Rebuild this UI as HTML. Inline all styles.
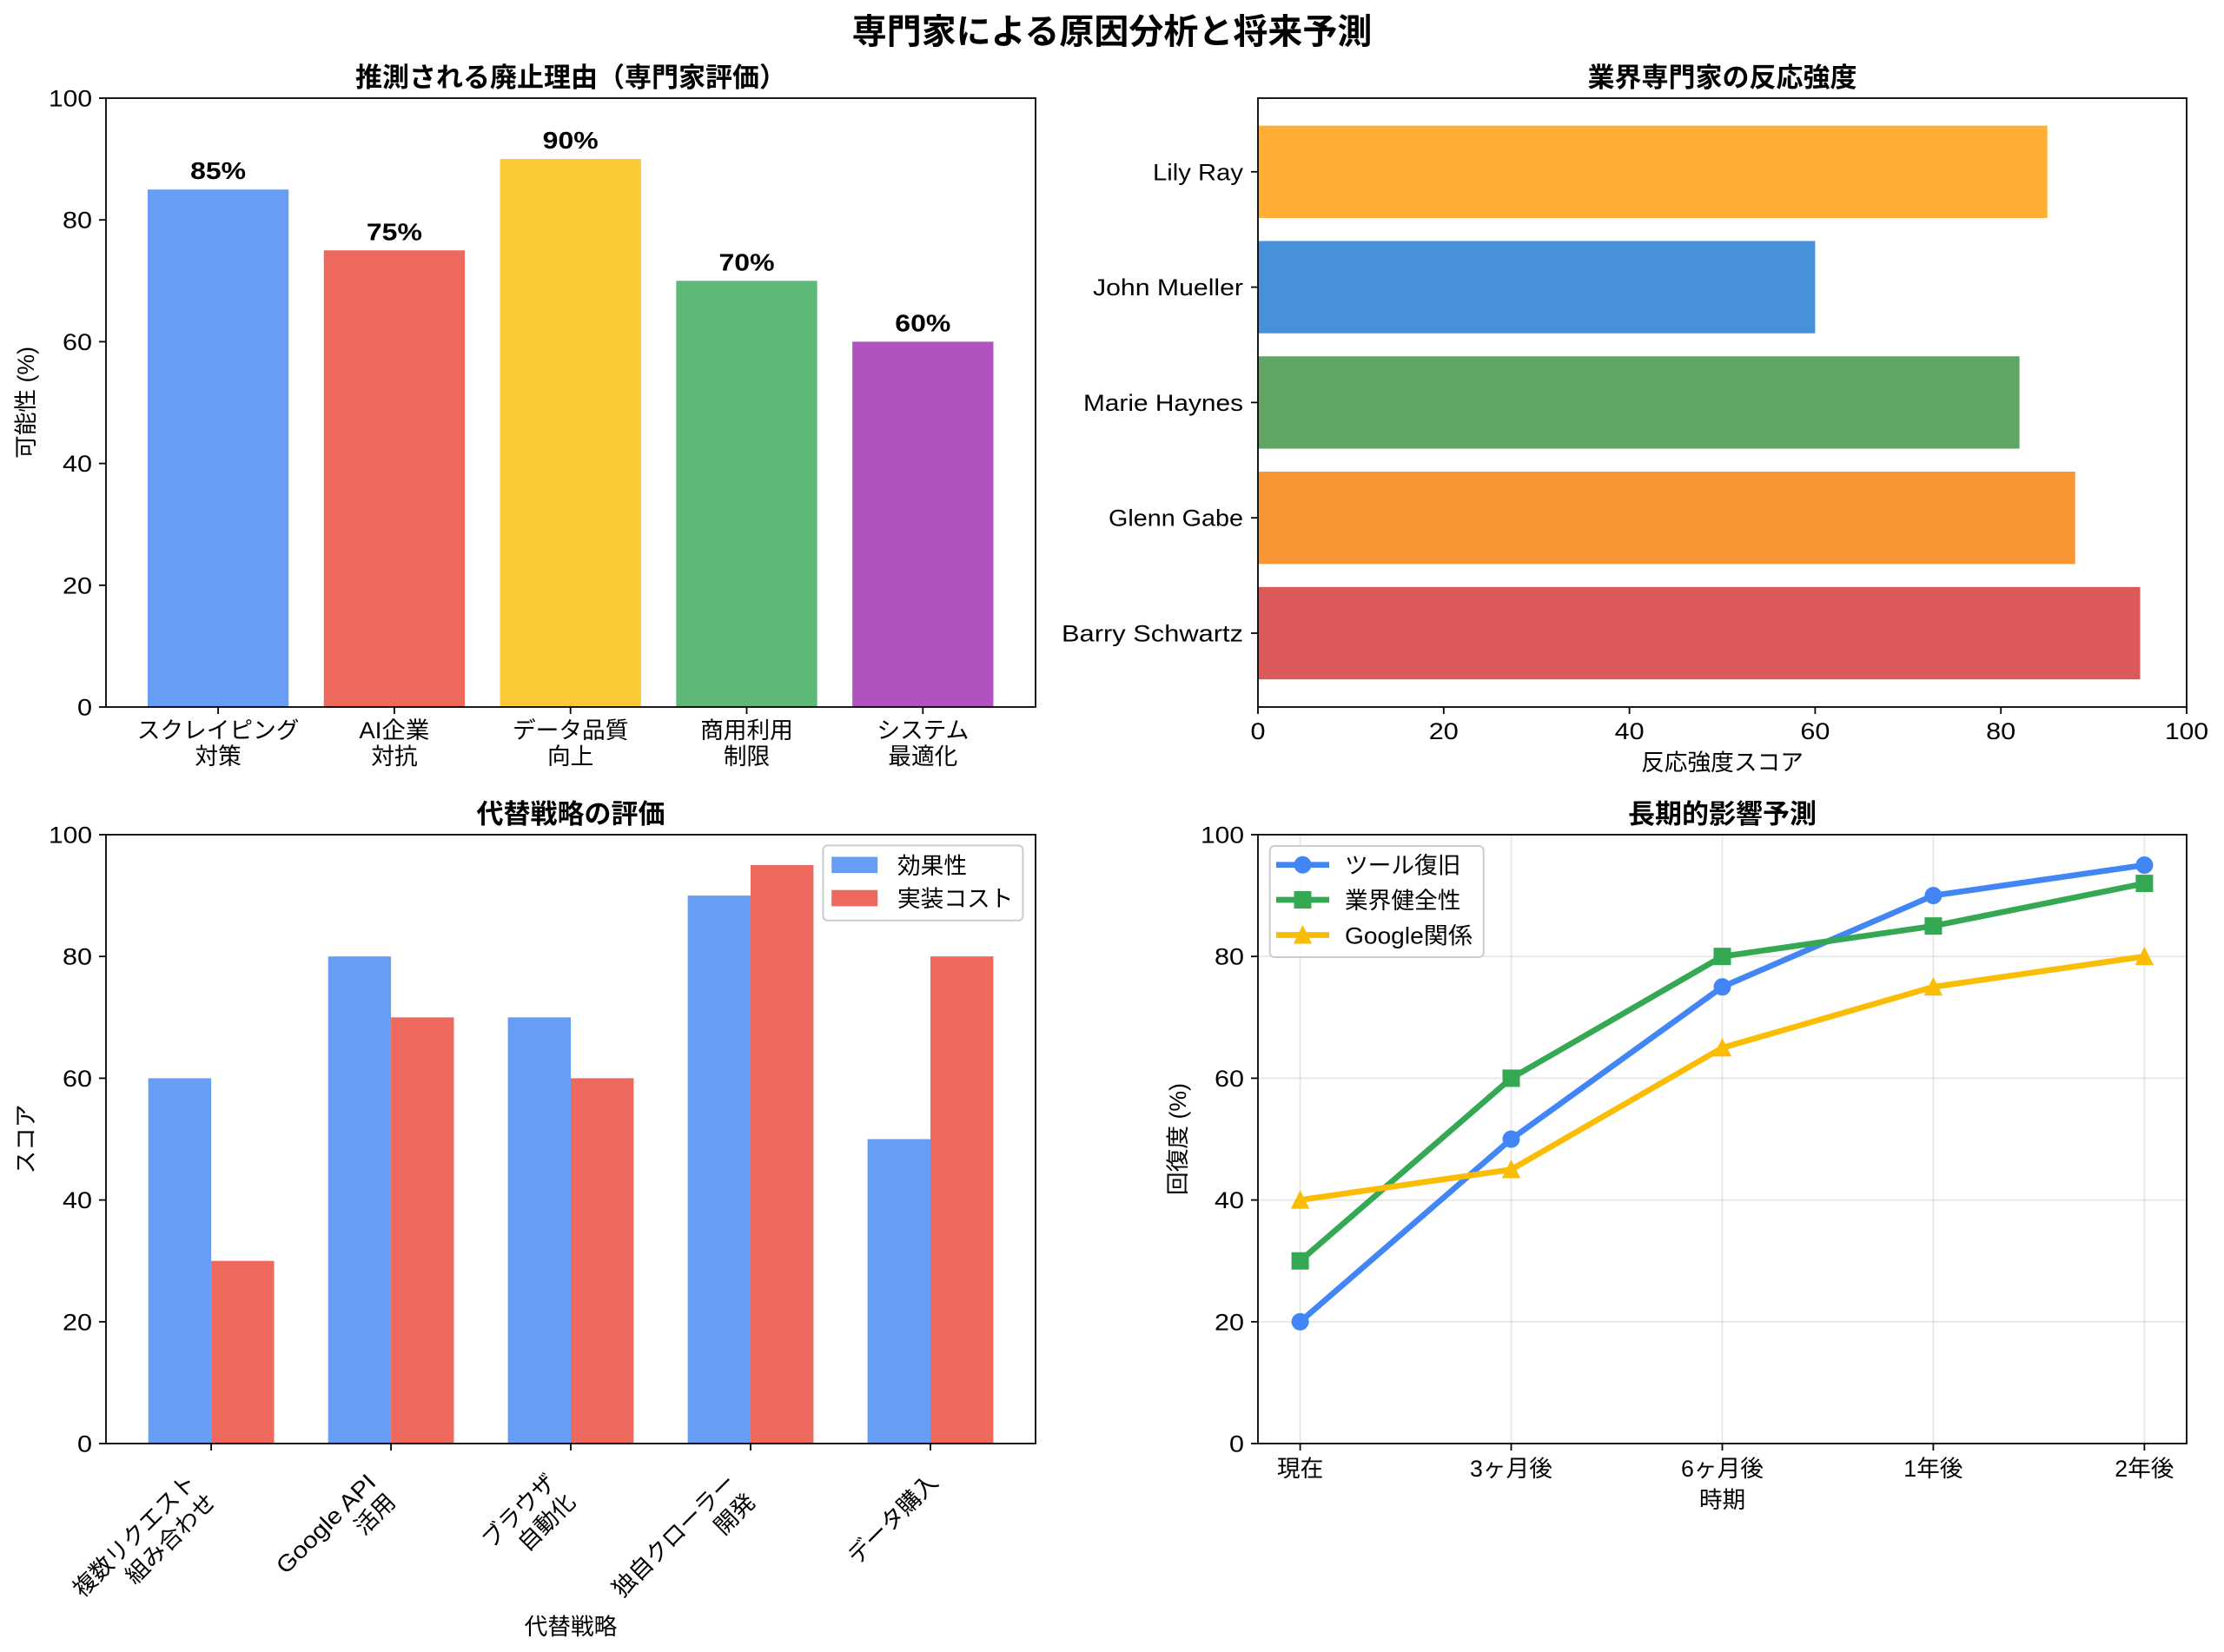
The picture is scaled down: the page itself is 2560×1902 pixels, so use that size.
<!DOCTYPE html>
<html><head><meta charset="utf-8"><style>
html,body{margin:0;padding:0;background:#fff;}
svg{display:block;}
text{font-family:"Liberation Sans","Noto Sans CJK JP",sans-serif;fill:#000;}
.t{font-size:26.7px;}
.b{font-size:28px;font-weight:bold;}
.ti{font-size:31px;font-weight:bold;}
.st{font-size:40px;font-weight:bold;}
</style></head><body>
<svg width="2560" height="1902" viewBox="0 0 2560 1902" xmlns="http://www.w3.org/2000/svg">
<rect width="2560" height="1902" fill="#fff"/>
<text class="st" x="1280" y="50" text-anchor="middle">専門家による原因分析と将来予測</text>

<!-- ===== Top-left ===== -->
<text class="ti" x="657" y="100" text-anchor="middle">推測される廃止理由（専門家評価）</text>
<rect x="169.95" y="218.2" width="162.3" height="595.8" fill="#689DF6"/>
<rect x="372.75" y="288.25" width="162.3" height="525.75" fill="#EE695D"/>
<rect x="575.55" y="183.1" width="162.3" height="630.9" fill="#FCC936"/>
<rect x="778.35" y="323.3" width="162.3" height="490.7" fill="#5DB975"/>
<rect x="981.15" y="393.4" width="162.3" height="420.6" fill="#B052C0"/>
<g text-anchor="middle">
<text class="b" x="251.1" y="206.2" textLength="64" lengthAdjust="spacingAndGlyphs">85%</text>
<text class="b" x="453.9" y="276.3" textLength="64" lengthAdjust="spacingAndGlyphs">75%</text>
<text class="b" x="656.7" y="171.1" textLength="64" lengthAdjust="spacingAndGlyphs">90%</text>
<text class="b" x="859.5" y="311.3" textLength="64" lengthAdjust="spacingAndGlyphs">70%</text>
<text class="b" x="1062.3" y="381.4" textLength="64" lengthAdjust="spacingAndGlyphs">60%</text>
</g>
<g stroke="#000" stroke-width="1.8">
<line x1="114" y1="814" x2="122" y2="814"/><line x1="114" y1="673.8" x2="122" y2="673.8"/>
<line x1="114" y1="533.6" x2="122" y2="533.6"/><line x1="114" y1="393.4" x2="122" y2="393.4"/>
<line x1="114" y1="253.2" x2="122" y2="253.2"/><line x1="114" y1="113" x2="122" y2="113"/>
<line x1="251.1" y1="814" x2="251.1" y2="822"/><line x1="453.9" y1="814" x2="453.9" y2="822"/>
<line x1="656.7" y1="814" x2="656.7" y2="822"/><line x1="859.5" y1="814" x2="859.5" y2="822"/>
<line x1="1062.3" y1="814" x2="1062.3" y2="822"/>
</g>
<rect x="122" y="113" width="1070" height="701" fill="none" stroke="#000" stroke-width="1.8"/>
<g text-anchor="end">
<text class="t" x="106" y="823.5" textLength="17" lengthAdjust="spacingAndGlyphs">0</text>
<text class="t" x="106" y="683.3" textLength="34" lengthAdjust="spacingAndGlyphs">20</text>
<text class="t" x="106" y="543.1" textLength="34" lengthAdjust="spacingAndGlyphs">40</text>
<text class="t" x="106" y="402.9" textLength="34" lengthAdjust="spacingAndGlyphs">60</text>
<text class="t" x="106" y="262.7" textLength="34" lengthAdjust="spacingAndGlyphs">80</text>
<text class="t" x="106" y="122.5" textLength="50" lengthAdjust="spacingAndGlyphs">100</text>
</g>
<g text-anchor="middle">
<text class="t" x="251.1" y="850">スクレイピング</text><text class="t" x="251.1" y="880">対策</text>
<text class="t" x="453.9" y="850" textLength="81" lengthAdjust="spacingAndGlyphs">AI企業</text><text class="t" x="453.9" y="880">対抗</text>
<text class="t" x="656.7" y="850">データ品質</text><text class="t" x="656.7" y="880">向上</text>
<text class="t" x="859.5" y="850">商用利用</text><text class="t" x="859.5" y="880">制限</text>
<text class="t" x="1062.3" y="850">システム</text><text class="t" x="1062.3" y="880">最適化</text>
</g>
<text class="t" transform="translate(29,463.5) rotate(-90)" x="0" y="10" text-anchor="middle">可能性 (%)</text>

<!-- ===== Top-right ===== -->
<text class="ti" x="1982.5" y="100" text-anchor="middle">業界専門家の反応強度</text>
<rect x="1448" y="144.65" width="908.65" height="106.3" fill="#FFAD33"/>
<rect x="1448" y="277.45" width="641.4" height="106.3" fill="#4791DB"/>
<rect x="1448" y="410.25" width="876.6" height="106.3" fill="#60A563"/>
<rect x="1448" y="543.05" width="940.7" height="106.3" fill="#F79633"/>
<rect x="1448" y="675.85" width="1015.55" height="106.3" fill="#DC5959"/>
<g stroke="#000" stroke-width="1.8">
<line x1="1440" y1="197.8" x2="1448" y2="197.8"/><line x1="1440" y1="330.6" x2="1448" y2="330.6"/>
<line x1="1440" y1="463.4" x2="1448" y2="463.4"/><line x1="1440" y1="596.2" x2="1448" y2="596.2"/>
<line x1="1440" y1="729" x2="1448" y2="729"/>
<line x1="1448" y1="814" x2="1448" y2="822"/><line x1="1661.8" y1="814" x2="1661.8" y2="822"/>
<line x1="1875.6" y1="814" x2="1875.6" y2="822"/><line x1="2089.4" y1="814" x2="2089.4" y2="822"/>
<line x1="2303.2" y1="814" x2="2303.2" y2="822"/><line x1="2517" y1="814" x2="2517" y2="822"/>
</g>
<rect x="1448" y="113" width="1069" height="701" fill="none" stroke="#000" stroke-width="1.8"/>
<g text-anchor="end">
<text class="t" x="1431" y="207.3" textLength="104" lengthAdjust="spacingAndGlyphs">Lily Ray</text>
<text class="t" x="1431" y="340.1" textLength="173" lengthAdjust="spacingAndGlyphs">John Mueller</text>
<text class="t" x="1431" y="472.9" textLength="184" lengthAdjust="spacingAndGlyphs">Marie Haynes</text>
<text class="t" x="1431" y="605.7" textLength="155" lengthAdjust="spacingAndGlyphs">Glenn Gabe</text>
<text class="t" x="1431" y="738.5" textLength="209" lengthAdjust="spacingAndGlyphs">Barry Schwartz</text>
</g>
<g text-anchor="middle">
<text class="t" x="1448" y="851" textLength="17" lengthAdjust="spacingAndGlyphs">0</text>
<text class="t" x="1661.8" y="851" textLength="34" lengthAdjust="spacingAndGlyphs">20</text>
<text class="t" x="1875.6" y="851" textLength="34" lengthAdjust="spacingAndGlyphs">40</text>
<text class="t" x="2089.4" y="851" textLength="34" lengthAdjust="spacingAndGlyphs">60</text>
<text class="t" x="2303.2" y="851" textLength="34" lengthAdjust="spacingAndGlyphs">80</text>
<text class="t" x="2517" y="851" textLength="50" lengthAdjust="spacingAndGlyphs">100</text>
<text class="t" x="1982.5" y="887">反応強度スコア</text>
</g>

<!-- ===== Bottom-left ===== -->
<text class="ti" x="657" y="948" text-anchor="middle">代替戦略の評価</text>
<rect x="170.7" y="1241.4" width="72.4" height="420.6" fill="#689DF6"/>
<rect x="243.1" y="1451.7" width="72.4" height="210.3" fill="#EE695D"/>
<rect x="377.7" y="1101.2" width="72.4" height="560.8" fill="#689DF6"/>
<rect x="450.1" y="1171.3" width="72.4" height="490.7" fill="#EE695D"/>
<rect x="584.6" y="1171.3" width="72.4" height="490.7" fill="#689DF6"/>
<rect x="657" y="1241.4" width="72.4" height="420.6" fill="#EE695D"/>
<rect x="791.6" y="1031.1" width="72.4" height="630.9" fill="#689DF6"/>
<rect x="864" y="996.05" width="72.4" height="665.95" fill="#EE695D"/>
<rect x="998.6" y="1311.5" width="72.4" height="350.5" fill="#689DF6"/>
<rect x="1071" y="1101.2" width="72.4" height="560.8" fill="#EE695D"/>
<g stroke="#000" stroke-width="1.8">
<line x1="114" y1="1662" x2="122" y2="1662"/><line x1="114" y1="1521.8" x2="122" y2="1521.8"/>
<line x1="114" y1="1381.6" x2="122" y2="1381.6"/><line x1="114" y1="1241.4" x2="122" y2="1241.4"/>
<line x1="114" y1="1101.2" x2="122" y2="1101.2"/><line x1="114" y1="961" x2="122" y2="961"/>
<line x1="243.1" y1="1662" x2="243.1" y2="1670"/><line x1="450.1" y1="1662" x2="450.1" y2="1670"/>
<line x1="657" y1="1662" x2="657" y2="1670"/><line x1="864" y1="1662" x2="864" y2="1670"/>
<line x1="1071" y1="1662" x2="1071" y2="1670"/>
</g>
<rect x="122" y="961" width="1070" height="701" fill="none" stroke="#000" stroke-width="1.8"/>
<g text-anchor="end">
<text class="t" x="106" y="1671.5" textLength="17" lengthAdjust="spacingAndGlyphs">0</text>
<text class="t" x="106" y="1531.3" textLength="34" lengthAdjust="spacingAndGlyphs">20</text>
<text class="t" x="106" y="1391.1" textLength="34" lengthAdjust="spacingAndGlyphs">40</text>
<text class="t" x="106" y="1250.9" textLength="34" lengthAdjust="spacingAndGlyphs">60</text>
<text class="t" x="106" y="1110.7" textLength="34" lengthAdjust="spacingAndGlyphs">80</text>
<text class="t" x="106" y="970.5" textLength="50" lengthAdjust="spacingAndGlyphs">100</text>
</g>
<!-- legend -->
<rect x="947.4" y="973.4" width="230" height="86.4" rx="5.3" ry="5.3" fill="#fff" fill-opacity="0.8" stroke="#cccccc" stroke-width="2"/>
<rect x="957.2" y="986.5" width="53" height="18.7" fill="#689DF6"/>
<rect x="957.2" y="1024.7" width="53" height="18.7" fill="#EE695D"/>
<text class="t" x="1033" y="1005.8">効果性</text>
<text class="t" x="1033" y="1044">実装コスト</text>
<!-- rotated tick labels -->
<g text-anchor="end">
<g transform="translate(211,1692) rotate(-45)"><text class="t" x="0" y="23">複数リクエスト</text><text class="t" x="0" y="55">組み合わせ</text></g>
<g transform="translate(418,1692) rotate(-45)"><text class="t" x="0" y="23" textLength="149" lengthAdjust="spacingAndGlyphs">Google API</text><text class="t" x="0" y="55">活用</text></g>
<g transform="translate(625,1692) rotate(-45)"><text class="t" x="0" y="23">ブラウザ</text><text class="t" x="0" y="55">自動化</text></g>
<g transform="translate(832,1692) rotate(-45)"><text class="t" x="0" y="23">独自クローラー</text><text class="t" x="0" y="55">開発</text></g>
<g transform="translate(1065,1692) rotate(-45)"><text class="t" x="0" y="23">データ購入</text></g>
</g>
<text class="t" x="657" y="1882" text-anchor="middle">代替戦略</text>
<text class="t" transform="translate(29,1311.5) rotate(-90)" x="0" y="10" text-anchor="middle">スコア</text>

<!-- ===== Bottom-right ===== -->
<text class="ti" x="1982.5" y="948" text-anchor="middle">長期的影響予測</text>
<g stroke="#b0b0b0" stroke-opacity="0.3" stroke-width="1.8">
<line x1="1496.6" y1="961" x2="1496.6" y2="1662"/><line x1="1739.5" y1="961" x2="1739.5" y2="1662"/>
<line x1="1982.5" y1="961" x2="1982.5" y2="1662"/><line x1="2225.4" y1="961" x2="2225.4" y2="1662"/>
<line x1="2468.4" y1="961" x2="2468.4" y2="1662"/>
<line x1="1448" y1="1521.8" x2="2517" y2="1521.8"/><line x1="1448" y1="1381.6" x2="2517" y2="1381.6"/>
<line x1="1448" y1="1241.4" x2="2517" y2="1241.4"/><line x1="1448" y1="1101.2" x2="2517" y2="1101.2"/>
</g>
<!-- blue -->
<polyline points="1496.6,1521.8 1739.5,1311.5 1982.5,1136.25 2225.4,1031.1 2468.4,996.05" fill="none" stroke="#4285F4" stroke-width="6.7" stroke-linejoin="round"/>
<g fill="#4285F4" stroke="#4285F4" stroke-width="2.2">
<circle cx="1496.6" cy="1521.8" r="8.9"/><circle cx="1739.5" cy="1311.5" r="8.9"/>
<circle cx="1982.5" cy="1136.25" r="8.9"/><circle cx="2225.4" cy="1031.1" r="8.9"/>
<circle cx="2468.4" cy="996.05" r="8.9"/>
</g>
<!-- green -->
<polyline points="1496.6,1451.7 1739.5,1241.4 1982.5,1101.2 2225.4,1066.15 2468.4,1017.1" fill="none" stroke="#34A853" stroke-width="6.7" stroke-linejoin="round"/>
<g fill="#34A853" stroke="#34A853" stroke-width="2.2">
<rect x="1487.7" y="1442.8" width="17.8" height="17.8"/><rect x="1730.6" y="1232.5" width="17.8" height="17.8"/>
<rect x="1973.6" y="1092.3" width="17.8" height="17.8"/><rect x="2216.5" y="1057.25" width="17.8" height="17.8"/>
<rect x="2459.5" y="1008.2" width="17.8" height="17.8"/>
</g>
<!-- yellow -->
<polyline points="1496.6,1381.6 1739.5,1346.55 1982.5,1206.35 2225.4,1136.25 2468.4,1101.2" fill="none" stroke="#FBBC04" stroke-width="6.7" stroke-linejoin="round"/>
<g fill="#FBBC04" stroke="#FBBC04" stroke-width="2.2">
<polygon points="1496.6,1372.7 1487.7,1390.5 1505.5,1390.5"/>
<polygon points="1739.5,1337.65 1730.6,1355.45 1748.4,1355.45"/>
<polygon points="1982.5,1197.45 1973.6,1215.25 1991.4,1215.25"/>
<polygon points="2225.4,1127.35 2216.5,1145.15 2234.3,1145.15"/>
<polygon points="2468.4,1092.3 2459.5,1110.1 2477.3,1110.1"/>
</g>
<g stroke="#000" stroke-width="1.8">
<line x1="1440" y1="1662" x2="1448" y2="1662"/><line x1="1440" y1="1521.8" x2="1448" y2="1521.8"/>
<line x1="1440" y1="1381.6" x2="1448" y2="1381.6"/><line x1="1440" y1="1241.4" x2="1448" y2="1241.4"/>
<line x1="1440" y1="1101.2" x2="1448" y2="1101.2"/><line x1="1440" y1="961" x2="1448" y2="961"/>
<line x1="1496.6" y1="1662" x2="1496.6" y2="1670"/><line x1="1739.5" y1="1662" x2="1739.5" y2="1670"/>
<line x1="1982.5" y1="1662" x2="1982.5" y2="1670"/><line x1="2225.4" y1="1662" x2="2225.4" y2="1670"/>
<line x1="2468.4" y1="1662" x2="2468.4" y2="1670"/>
</g>
<rect x="1448" y="961" width="1069" height="701" fill="none" stroke="#000" stroke-width="1.8"/>
<!-- legend -->
<rect x="1461.7" y="974" width="246" height="128" rx="5.3" ry="5.3" fill="#fff" fill-opacity="0.8" stroke="#cccccc" stroke-width="2"/>
<line x1="1469" y1="995.7" x2="1530" y2="995.7" stroke="#4285F4" stroke-width="6.7"/>
<circle cx="1499.5" cy="995.7" r="8.9" fill="#4285F4" stroke="#4285F4" stroke-width="2.2"/>
<line x1="1469" y1="1036" x2="1530" y2="1036" stroke="#34A853" stroke-width="6.7"/>
<rect x="1490.6" y="1027.1" width="17.8" height="17.8" fill="#34A853" stroke="#34A853" stroke-width="2.2"/>
<line x1="1469" y1="1076.5" x2="1530" y2="1076.5" stroke="#FBBC04" stroke-width="6.7"/>
<polygon points="1499.5,1067.6 1490.6,1085.4 1508.4,1085.4" fill="#FBBC04" stroke="#FBBC04" stroke-width="2.2"/>
<text class="t" x="1548" y="1005.7">ツール復旧</text>
<text class="t" x="1548" y="1046">業界健全性</text>
<text class="t" x="1548" y="1086.5" textLength="147" lengthAdjust="spacingAndGlyphs">Google関係</text>
<g text-anchor="end">
<text class="t" x="1432" y="1671.5" textLength="17" lengthAdjust="spacingAndGlyphs">0</text>
<text class="t" x="1432" y="1531.3" textLength="34" lengthAdjust="spacingAndGlyphs">20</text>
<text class="t" x="1432" y="1391.1" textLength="34" lengthAdjust="spacingAndGlyphs">40</text>
<text class="t" x="1432" y="1250.9" textLength="34" lengthAdjust="spacingAndGlyphs">60</text>
<text class="t" x="1432" y="1110.7" textLength="34" lengthAdjust="spacingAndGlyphs">80</text>
<text class="t" x="1432" y="970.5" textLength="50" lengthAdjust="spacingAndGlyphs">100</text>
</g>
<g text-anchor="middle">
<text class="t" x="1496.6" y="1700">現在</text><text class="t" x="1739.5" y="1700">3ヶ月後</text>
<text class="t" x="1982.5" y="1700">6ヶ月後</text><text class="t" x="2225.4" y="1700">1年後</text>
<text class="t" x="2468.4" y="1700">2年後</text>
<text class="t" x="1982.5" y="1736">時期</text>
</g>
<text class="t" transform="translate(1355,1311.5) rotate(-90)" x="0" y="10" text-anchor="middle">回復度 (%)</text>
</svg>
</body></html>
